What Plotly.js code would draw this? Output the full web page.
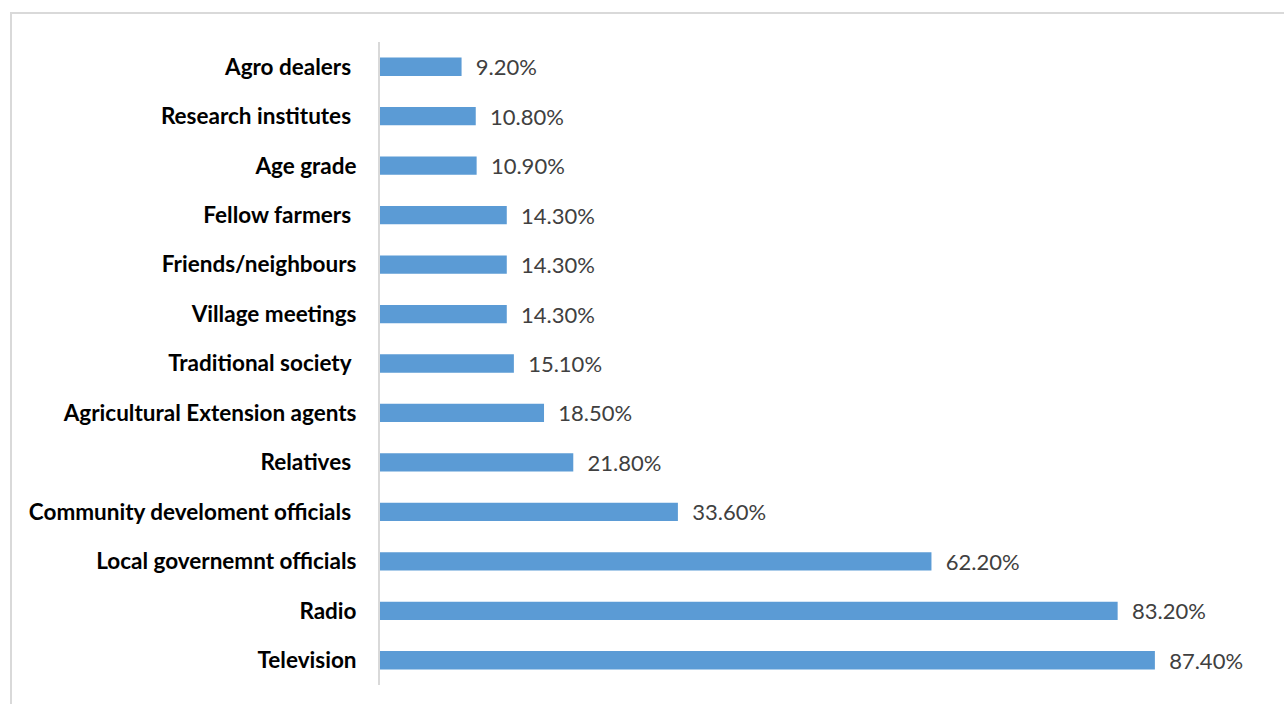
<!DOCTYPE html>
<html>
<head>
<meta charset="utf-8">
<script src="https://cdn.plot.ly/plotly-3.0.1.min.js"></script>
<style>
html,body{margin:0;padding:0;background:#fff;}
#frame{position:absolute;left:10px;top:12px;width:1290px;height:720px;border:2px solid #d9d9d9;box-sizing:border-box;}
#chart{position:absolute;left:0;top:0;width:1284px;height:704px;}
</style>
</head>
<body>
<div id="frame"></div>
<div id="chart"></div>
<script>
const categories = [
  "Television",
  "Radio",
  "Local governemnt officials",
  "Community develoment officials\u00a0",
  "Relatives\u00a0",
  "Agricultural Extension agents",
  "Traditional society\u00a0",
  "Village meetings",
  "Friends/neighbours",
  "Fellow farmers\u00a0",
  "Age grade",
  "Research institutes\u00a0",
  "Agro dealers\u00a0"
];
const values = [87.4, 83.2, 62.2, 33.6, 21.8, 18.5, 15.1, 14.3, 14.3, 14.3, 10.9, 10.8, 9.2];
const valueLabels = values.map(v => v.toFixed(2) + "%");

const trace = {
  type: "bar",
  orientation: "h",
  y: categories,
  x: values,
  marker: {color: "#5b9bd5"},
  width: 0.37,
  text: valueLabels.map(t => "\u00a0\u00a0" + t),
  textposition: "outside",
  constraintext: "none",
  textfont: {family: "Lato, sans-serif", size: 22, color: "#404040"},
  cliponaxis: false,
  hoverinfo: "none"
};

const layout = {
  width: 1284,
  height: 704,
  paper_bgcolor: "rgba(0,0,0,0)",
  plot_bgcolor: "rgba(0,0,0,0)",
  margin: {l: 380, r: 44, t: 42, b: 19},
  showlegend: false,
  xaxis: {range: [0, 97], visible: false, fixedrange: true},
  yaxis: {
    type: "category",
    categoryorder: "array",
    categoryarray: categories,
    showline: true,
    linecolor: "#d9d9d9",
    linewidth: 2,
    showgrid: false,
    zeroline: false,
    ticks: "",
    ticklabelstandoff: 17,
    tickfont: {family: "Lato, sans-serif", size: 22.5, color: "#000000", weight: "bold"}
  }
};

Plotly.newPlot("chart", [trace], layout, {staticPlot: true});
</script>
</body>
</html>
